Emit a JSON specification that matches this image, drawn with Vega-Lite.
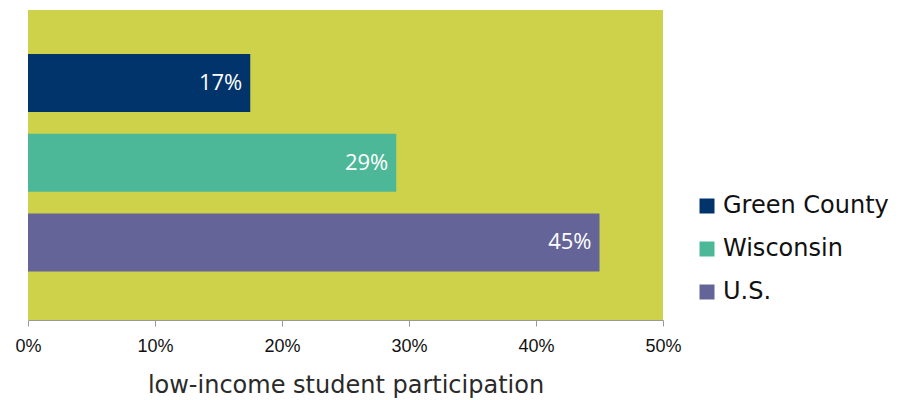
{
  "$schema": "https://vega.github.io/schema/vega-lite/v6.json",
  "width": 635,
  "height": 310,
  "autosize": {"type": "none"},
  "padding": {"left": 28, "top": 10, "right": 236, "bottom": 80},
  "background": "white",
  "data": {
    "values": [
      {"region": "Green County", "value": 17.5, "label": "17%"},
      {"region": "Wisconsin", "value": 29, "label": "29%"},
      {"region": "U.S.", "value": 45, "label": "45%"}
    ]
  },
  "config": {
    "view": {"fill": "#CDD24A", "stroke": null}
  },
  "encoding": {
    "y": {
      "field": "region",
      "type": "nominal",
      "sort": ["Green County", "Wisconsin", "U.S."],
      "scale": {"paddingInner": 0.272, "paddingOuter": 0.58, "align": 0.475},
      "axis": null
    },
    "x": {
      "field": "value",
      "type": "quantitative",
      "scale": {"domain": [0, 50], "nice": false},
      "axis": {
        "values": [0, 10, 20, 30, 40, 50],
        "labelExpr": "datum.value + '%'",
        "labelFlush": false,
        "labelOverlap": false,
        "grid": false,
        "domainColor": "#999999",
        "tickColor": "#999999",
        "tickSize": 6,
        "labelFont": "Liberation Sans",
        "labelFontSize": 18,
        "labelColor": "#111111",
        "labelPadding": 11,
        "title": "low-income student participation",
        "titleFont": "DejaVu Sans",
        "titleFontSize": 24,
        "titleFontWeight": "normal",
        "titleColor": "#2a2a2a",
        "titlePadding": 18
      }
    }
  },
  "layer": [
    {
      "mark": {"type": "bar"},
      "encoding": {
        "color": {
          "field": "region",
          "type": "nominal",
          "sort": ["Green County", "Wisconsin", "U.S."],
          "scale": {
            "domain": ["Green County", "Wisconsin", "U.S."],
            "range": ["#00346A", "#4DB897", "#646499"]
          },
          "legend": {
            "title": null,
            "orient": "none",
            "legendX": 667,
            "legendY": 184,
            "symbolType": "square",
            "symbolSize": 225,
            "symbolStrokeWidth": 0,
            "labelFont": "DejaVu Sans",
            "labelFontSize": 24,
            "labelLimit": 300,
            "labelColor": "#111111",
            "labelOffset": 4,
            "rowPadding": 19
          }
        }
      }
    },
    {
      "mark": {"type": "text", "align": "right", "dx": -8, "color": "white", "font": "Open Sans", "fontSize": 22, "baseline": "middle"},
      "encoding": {"text": {"field": "label"}}
    }
  ]
}
